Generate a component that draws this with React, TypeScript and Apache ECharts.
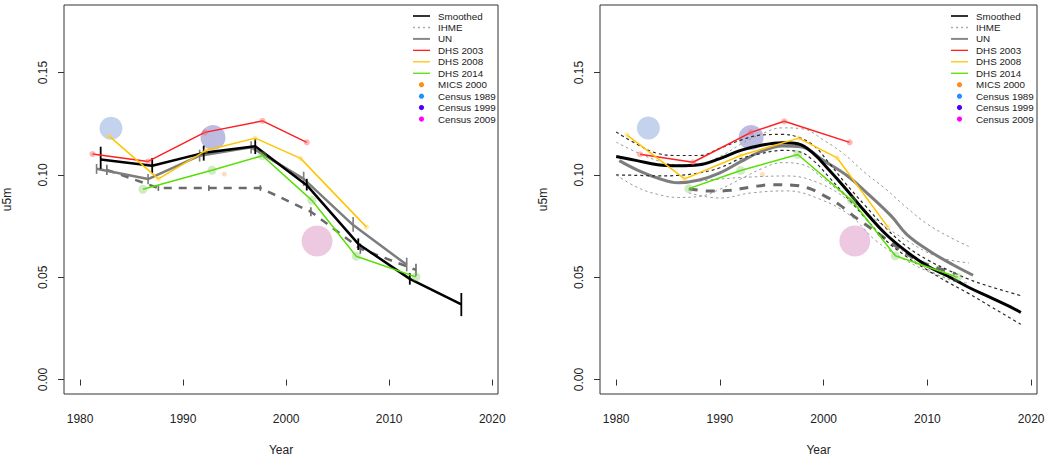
import React, { useEffect, useRef } from "react";
import * as echarts from "echarts";

// ---------- axes ----------
const xTicks = [1980, 1990, 2000, 2010, 2020];
const yTicks = [0, 0.05, 0.1, 0.15];

// ---------- LEFT PANEL (period estimates) ----------
const lSmoothYears = [1982, 1987, 1992, 1997, 2002, 2007, 2012, 2017];
const lSmoothU5m = [0.1075, 0.1045, 0.1108, 0.114, 0.095, 0.0663, 0.0492, 0.0367];
const lSmoothLo = [0.103, 0.1005, 0.107, 0.1102, 0.0924, 0.0633, 0.0464, 0.031];
const lSmoothHi = [0.1138, 0.1083, 0.1143, 0.1175, 0.0981, 0.069, 0.052, 0.0423];

const lUNYears = [1981.6, 1986.6, 1991.6, 1996.6, 2001.7, 2006.5, 2011.7];
const lUNU5m = [0.103, 0.098, 0.1094, 0.1135, 0.0981, 0.0755, 0.0561];
const lUNLo = [0.1005, 0.0955, 0.1065, 0.1105, 0.0946, 0.0723, 0.0529];
const lUNHi = [0.1054, 0.1005, 0.1123, 0.1165, 0.1016, 0.0795, 0.0596];

const lIHMEYears = [1982.6, 1987.6, 1992.5, 1997.5, 2002.4, 2007.2, 2012.6];
const lIHMEU5m = [0.1025, 0.0936, 0.0936, 0.0936, 0.082, 0.064, 0.0536];
const lIHMELo = [0.1, 0.0922, 0.0922, 0.0922, 0.0798, 0.0615, 0.0506];
const lIHMEHi = [0.105, 0.095, 0.095, 0.095, 0.0842, 0.0665, 0.0566];

const lDHS2003Years = [1981.2, 1986.6, 1992.1, 1997.7, 2002.0];
const lDHS2003U5m = [0.1102, 0.1066, 0.1208, 0.1264, 0.1159];
const lDHS2008Years = [1982.8, 1987.6, 1992.2, 1997.0, 2001.4, 2007.8];
const lDHS2008U5m = [0.1191, 0.0981, 0.1119, 0.118, 0.1081, 0.0745];
const lDHS2014Years = [1986.1, 1992.8, 1997.7, 2002.5, 2006.8, 2012.6];
const lDHS2014U5m = [0.093, 0.1023, 0.1094, 0.0876, 0.0603, 0.0502];

const lMICS2000 = [[1994.0, 0.1004]];
const lCensus1989 = [[1983.0, 0.1228]];
const lCensus1999 = [[1992.9, 0.1183]];
const lCensus2009 = [[2003.0, 0.0677]];

// ---------- RIGHT PANEL (smoothed yearly estimates) ----------
const rSmoothYears = [1980, 1982, 1984, 1986, 1988, 1990, 1992, 1994, 1996, 1997.5, 1999, 2000.5, 2002, 2004, 2006, 2008, 2010, 2012, 2014, 2016, 2018, 2019];
const rSmoothU5m = [0.109, 0.107, 0.105, 0.1045, 0.105, 0.108, 0.112, 0.1145, 0.1157, 0.1152, 0.1105, 0.1025, 0.094, 0.082, 0.071, 0.0625, 0.0555, 0.0505, 0.045, 0.0403, 0.0355, 0.0328];
const rSmoothHi = [0.121, 0.115, 0.1105, 0.1095, 0.1095, 0.113, 0.117, 0.1195, 0.1198, 0.1185, 0.1145, 0.106, 0.0965, 0.085, 0.074, 0.065, 0.0585, 0.0535, 0.049, 0.0455, 0.0425, 0.041];
const rSmoothLo = [0.1, 0.0998, 0.0995, 0.0998, 0.101, 0.1035, 0.108, 0.1105, 0.112, 0.1115, 0.107, 0.099, 0.0905, 0.079, 0.068, 0.06, 0.0535, 0.0475, 0.042, 0.036, 0.03, 0.027];

const rUNYears = [1980.3, 1982, 1984, 1986, 1988, 1990, 1992, 1994, 1996, 1997.8, 2000, 2002.3, 2004, 2006.5, 2008, 2010.3, 2012.5, 2014.4];
const rUNU5m = [0.107, 0.1025, 0.0985, 0.0962, 0.0975, 0.101, 0.1065, 0.1115, 0.1142, 0.1138, 0.107, 0.0995, 0.092, 0.08, 0.071, 0.0625, 0.056, 0.051];
const rUNBandYears = [1980, 1982, 1984, 1986, 1988, 1990, 1992, 1994, 1996, 1998, 2000, 2002, 2004, 2006, 2008, 2010, 2012, 2014];
const rUNHi = [0.116, 0.111, 0.107, 0.105, 0.1055, 0.109, 0.115, 0.12, 0.123, 0.1225, 0.117, 0.11, 0.101, 0.093, 0.084, 0.076, 0.07, 0.065];
const rUNLo = [0.1, 0.094, 0.0905, 0.089, 0.0895, 0.093, 0.098, 0.103, 0.106, 0.105, 0.098, 0.09, 0.082, 0.071, 0.061, 0.054, 0.049, 0.046];

const rIHMEYears = [1987, 1989, 1991, 1993, 1995, 1997, 1998.5, 2000, 2001.5, 2003, 2005, 2007, 2009, 2011, 2012.7];
const rIHMEU5m = [0.0933, 0.0921, 0.0925, 0.0941, 0.0952, 0.095, 0.0936, 0.09, 0.0855, 0.0795, 0.0723, 0.065, 0.0585, 0.0545, 0.0518];
const rIHMEBandYears = [1987, 1990, 1993, 1996.5, 1999.7, 2002.6, 2005, 2008, 2011, 2014];
const rIHMEHi = [0.0965, 0.098, 0.099, 0.0995, 0.0957, 0.087, 0.078, 0.068, 0.06, 0.057];
const rIHMELo = [0.0912, 0.0887, 0.0912, 0.0922, 0.088, 0.08, 0.068, 0.058, 0.051, 0.047];

const rDHS2003Years = [1982.3, 1987.4, 1993.0, 1996.2, 2002.5];
const rDHS2003U5m = [0.1101, 0.1062, 0.1208, 0.1262, 0.1159];
const rDHS2008Years = [1981.05, 1986.6, 1992.0, 1997.6, 2001.3, 2006.2];
const rDHS2008U5m = [0.1195, 0.0981, 0.1095, 0.118, 0.1083, 0.0745];
const rDHS2014Years = [1987.0, 1992.0, 1997.5, 2002.7, 2006.9, 2012.9];
const rDHS2014U5m = [0.0933, 0.1022, 0.11, 0.0876, 0.0605, 0.05];

const rMICS2000 = [[1994.1, 0.1002]];
const rCensus1989 = [[1983.1, 0.1229]];
const rCensus1999 = [[1993.0, 0.1183]];
const rCensus2009 = [[2003.0, 0.0677]];

const legendNames = ["Smoothed", "IHME", "UN", "DHS 2003", "DHS 2008", "DHS 2014", "MICS 2000", "Census 1989", "Census 1999", "Census 2009"];

// ---------- helpers ----------
const FONT = "'Liberation Sans', Arial, Helvetica, sans-serif";
const pairs = (xs: number[], ys: number[]) => xs.map((x, i) => [x, ys[i]]);
const bars = (xs: number[], lo: number[], hi: number[]) => xs.map((x, i) => [x, lo[i], hi[i]]);

const C = {
  red: "#ff1f1f",
  yellow: "#ffc400",
  green: "#55e000",
  un: "#7d7d7d",
  ihme: "#6b6b6b",
};

function lineSeries(g: number, name: string, data: any[], o: any = {}) {
  return {
    type: "line",
    name,
    xAxisIndex: g,
    yAxisIndex: g,
    data,
    silent: true,
    smooth: o.smooth ?? false,
    symbol: o.symbol ?? "none",
    symbolSize: o.symbolSize ?? 0,
    showSymbol: !!o.symbol,
    itemStyle: { color: o.symColor ?? o.color, borderWidth: 0 },
    lineStyle: { color: o.color, width: o.width ?? 1.5, type: o.dash ?? "solid", cap: "butt" },
    z: o.z ?? 2,
  };
}

function errSeries(g: number, name: string, data: any[], color: string, width: number, z: number) {
  return {
    type: "custom",
    name,
    xAxisIndex: g,
    yAxisIndex: g,
    data,
    silent: true,
    z,
    encode: { x: 0, y: [1, 2] },
    renderItem: (_p: any, api: any) => {
      const a = api.coord([api.value(0), api.value(1)]);
      const b = api.coord([api.value(0), api.value(2)]);
      return {
        type: "line",
        shape: { x1: a[0], y1: a[1], x2: b[0], y2: b[1] },
        style: { stroke: color, lineWidth: width },
      };
    },
  };
}

function dotSeries(g: number, name: string, data: any[], size: number, color: string, z = 1) {
  return {
    type: "scatter",
    name,
    xAxisIndex: g,
    yAxisIndex: g,
    data,
    silent: true,
    symbol: "circle",
    symbolSize: size,
    itemStyle: { color, borderWidth: 0 },
    z,
  };
}

function xAxis(g: number) {
  return {
    type: "value",
    gridIndex: g,
    min: 1978.44,
    max: 2020.56,
    axisLine: { show: false },
    splitLine: { show: false },
    axisTick: { show: true, customValues: xTicks, length: 6, lineStyle: { color: "#333", width: 1 } },
    axisLabel: {
      customValues: xTicks,
      fontSize: 12,
      color: "#222",
      margin: 19,
      fontFamily: FONT,
      formatter: (v: number) => String(Math.round(v)),
    },
    name: "Year",
    nameLocation: "middle",
    nameGap: 50,
    nameTextStyle: { fontSize: 12, color: "#222", fontFamily: FONT },
  };
}

function yAxis(g: number) {
  return {
    type: "value",
    gridIndex: g,
    min: -0.00704,
    max: 0.18304,
    axisLine: { show: false },
    splitLine: { show: false },
    axisTick: { show: true, customValues: yTicks, length: 6, lineStyle: { color: "#333", width: 1 } },
    axisLabel: {
      customValues: yTicks,
      fontSize: 12,
      color: "#222",
      rotate: 90,
      margin: 15,
      fontFamily: FONT,
      formatter: (v: number) => v.toFixed(2),
    },
    name: "u5m",
    nameLocation: "middle",
    nameGap: 51,
    nameTextStyle: { fontSize: 12, color: "#222", fontFamily: FONT },
  };
}

const legendStyles = [
  { kind: "line", color: "#333", width: 2, dash: null },
  { kind: "line", color: "#aaa", width: 1.5, dash: [2, 3] },
  { kind: "line", color: "#888", width: 2, dash: null },
  { kind: "line", color: C.red, width: 1.3, dash: null },
  { kind: "line", color: C.yellow, width: 1.3, dash: null },
  { kind: "line", color: C.green, width: 1.3, dash: null },
  { kind: "dot", color: "#ff8c1a" },
  { kind: "dot", color: "#1e90ff" },
  { kind: "dot", color: "#4b00ff" },
  { kind: "dot", color: "#ff00ff" },
];

function legend(x0: number, y0: number) {
  const step = 11.45;
  const els: any[] = [];
  legendNames.forEach((name, i) => {
    const y = y0 + i * step;
    const s: any = legendStyles[i];
    if (s.kind === "line") {
      els.push({
        type: "line",
        shape: { x1: x0, y1: y, x2: x0 + 17, y2: y },
        style: { stroke: s.color, lineWidth: s.width, lineDash: s.dash || undefined },
        silent: true,
      });
    } else {
      els.push({ type: "circle", shape: { cx: x0 + 8.5, cy: y, r: 2.6 }, style: { fill: s.color }, silent: true });
    }
    els.push({
      type: "text",
      x: x0 + 25,
      y,
      style: { text: name, fill: "#222", fontSize: 9.8, fontFamily: FONT, verticalAlign: "middle", align: "left" },
      silent: true,
    });
  });
  return els;
}

function panelSeries(g: number, d: any) {
  const s: any[] = [];
  s.push(dotSeries(g, "Census 1989", d.c89, 23, "rgba(110,150,215,0.52)", 1));
  s.push(dotSeries(g, "Census 1999", d.c99, 25, "rgba(110,108,190,0.58)", 1));
  s.push(dotSeries(g, "Census 2009", d.c09, 31, "rgba(210,120,180,0.5)", 1));
  s.push(dotSeries(g, "MICS 2000", d.mics, 5, "rgba(255,140,40,0.38)", 1));
  return s;
}

function buildOption() {
  const series: any[] = [];
  // ---------- left ----------
  series.push(...panelSeries(0, { c89: lCensus1989, c99: lCensus1999, c09: lCensus2009, mics: lMICS2000 }));
  series.push(lineSeries(0, "IHME", pairs(lIHMEYears, lIHMEU5m), { color: C.ihme, width: 2.5, dash: [8, 7], z: 3 }));
  series.push(errSeries(0, "IHME err", bars(lIHMEYears, lIHMELo, lIHMEHi), C.ihme, 1.6, 3));
  series.push(lineSeries(0, "UN", pairs(lUNYears, lUNU5m), { color: C.un, width: 2.5, z: 4 }));
  series.push(errSeries(0, "UN err", bars(lUNYears, lUNLo, lUNHi), C.un, 1.6, 4));
  series.push(lineSeries(0, "Smoothed", pairs(lSmoothYears, lSmoothU5m), { color: "#000", width: 2.5, z: 5 }));
  series.push(errSeries(0, "Smoothed err", bars(lSmoothYears, lSmoothLo, lSmoothHi), "#000", 1.8, 5));
  series.push(lineSeries(0, "DHS 2003", pairs(lDHS2003Years, lDHS2003U5m), { color: C.red, width: 1.5, symbol: "circle", symbolSize: 6, symColor: "rgba(255,90,90,0.45)", z: 6 }));
  series.push(lineSeries(0, "DHS 2008", pairs(lDHS2008Years, lDHS2008U5m), { color: C.yellow, width: 1.5, symbol: "circle", symbolSize: 5, symColor: "rgba(255,210,60,0.45)", z: 6 }));
  series.push(lineSeries(0, "DHS 2014", pairs(lDHS2014Years, lDHS2014U5m), { color: C.green, width: 1.5, symbol: "circle", symbolSize: 9, symColor: "rgba(120,200,80,0.35)", z: 6 }));

  // ---------- right ----------
  series.push(...panelSeries(1, { c89: rCensus1989, c99: rCensus1999, c09: rCensus2009, mics: rMICS2000 }));
  const light = { color: "#9a9a9a", width: 1, dash: [2.5, 3], smooth: 0.4, z: 2 };
  series.push(lineSeries(1, "UN upper", pairs(rUNBandYears, rUNHi), light));
  series.push(lineSeries(1, "UN lower", pairs(rUNBandYears, rUNLo), light));
  series.push(lineSeries(1, "IHME upper", pairs(rIHMEBandYears, rIHMEHi), light));
  series.push(lineSeries(1, "IHME lower", pairs(rIHMEBandYears, rIHMELo), light));
  series.push(lineSeries(1, "IHME", pairs(rIHMEYears, rIHMEU5m), { color: C.ihme, width: 3, dash: [9, 8], smooth: 0.4, z: 3 }));
  series.push(lineSeries(1, "UN", pairs(rUNYears, rUNU5m), { color: C.un, width: 3, smooth: 0.4, z: 4 }));
  const dark = { color: "#2a2a2a", width: 1.2, dash: [3, 3], smooth: 0.4, z: 5 };
  series.push(lineSeries(1, "Smoothed upper", pairs(rSmoothYears, rSmoothHi), dark));
  series.push(lineSeries(1, "Smoothed lower", pairs(rSmoothYears, rSmoothLo), dark));
  series.push(lineSeries(1, "Smoothed", pairs(rSmoothYears, rSmoothU5m), { color: "#000", width: 3, smooth: 0.4, z: 5 }));
  series.push(lineSeries(1, "DHS 2003", pairs(rDHS2003Years, rDHS2003U5m), { color: C.red, width: 1.5, symbol: "circle", symbolSize: 6, symColor: "rgba(255,90,90,0.45)", z: 6 }));
  series.push(lineSeries(1, "DHS 2008", pairs(rDHS2008Years, rDHS2008U5m), { color: C.yellow, width: 1.5, symbol: "circle", symbolSize: 5, symColor: "rgba(255,210,60,0.45)", z: 6 }));
  series.push(lineSeries(1, "DHS 2014", pairs(rDHS2014Years, rDHS2014U5m), { color: C.green, width: 1.5, symbol: "circle", symbolSize: 9, symColor: "rgba(120,200,80,0.35)", z: 6 }));

  return {
    animation: false,
    backgroundColor: "#fff",
    grid: [
      { left: 62, top: 5, width: 436, height: 392, show: true, borderColor: "#333", borderWidth: 1, backgroundColor: "transparent" },
      { left: 600, top: 5, width: 437, height: 392, show: true, borderColor: "#333", borderWidth: 1, backgroundColor: "transparent" },
    ],
    xAxis: [xAxis(0), xAxis(1)],
    yAxis: [yAxis(0), yAxis(1)],
    series,
    graphic: [...legend(413, 16), ...legend(951, 16)],
  };
}

export default function App() {
  const ref = useRef<HTMLDivElement>(null);
  useEffect(() => {
    if (!ref.current) return;
    const chart = echarts.init(ref.current, null, { renderer: "svg" });
    chart.setOption(buildOption() as any);
    return () => chart.dispose();
  }, []);
  return (
    <div
      ref={ref}
      style={{ position: "fixed", left: 0, top: 0, width: 1050, height: 461, background: "#fff" }}
    />
  );
}
